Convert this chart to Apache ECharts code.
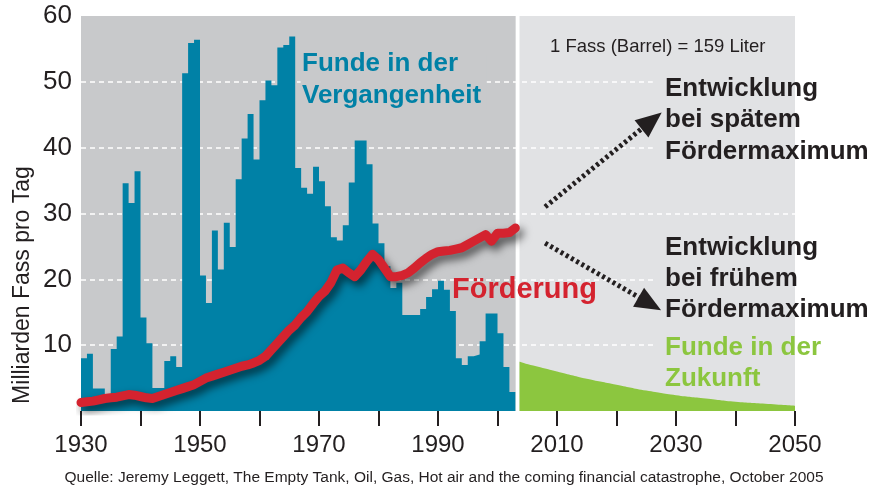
<!DOCTYPE html>
<html>
<head>
<meta charset="utf-8">
<script src="https://cdn.jsdelivr.net/npm/echarts@6/dist/echarts.min.js"></script>
<style>
html, body { margin: 0; padding: 0; background: #fff; }
#chart { width: 882px; height: 491px; }
</style>
</head>
<body>
<div id="chart"></div>
<script>
// Funde in der Vergangenheit (1930-2002), Milliarden Fass
var startYear = 1930;
var funde = [
    8.0, 8.7, 3.4, 3.4, 2.2, 9.4, 11.3, 34.6, 31.6, 36.4,
    14.2, 10.3, 3.5, 3.5, 7.6, 8.3, 6.7, 51.3, 55.9, 56.4,
    20.6, 16.4, 27.4, 21.5, 28.6, 24.9, 35.2, 41.4, 45.1, 38.2,
    47.2, 50.2, 49.5, 55.2, 55.6, 56.9, 36.9, 33.9, 33.0, 37.1,
    34.9, 31.1, 26.4, 25.9, 28.2, 34.7, 41.1, 41.1, 37.5, 28.5,
    25.5, 22.0, 18.7, 19.5, 14.6, 14.6, 14.6, 15.5, 17.3, 18.5,
    19.8, 18.4, 15.2, 8.0, 7.0, 8.3, 8.6, 10.6, 14.8, 14.8,
    11.8, 6.7, 2.9
];
// Förderung (1930-2003)
var foerderung = [
    1.3, 1.4, 1.5, 1.7, 1.9, 2.0, 2.1, 2.3, 2.5, 2.4,
    2.2, 2.0, 1.9, 2.2, 2.5, 2.8, 3.1, 3.4, 3.7, 4.0,
    4.5, 5.0, 5.3, 5.6, 5.9, 6.2, 6.5, 6.8, 7.0, 7.3,
    7.7, 8.3, 9.3, 10.3, 11.3, 12.3, 13.1, 14.2, 15.1, 16.3,
    17.4, 18.2, 19.5, 21.4, 21.7, 21.0, 20.4, 21.4, 22.7, 23.8,
    23.0, 21.7, 20.4, 20.4, 20.6, 21.0, 21.7, 22.5, 23.2, 23.8,
    24.2, 24.3, 24.4, 24.6, 24.8, 25.3, 25.8, 26.3, 26.8, 25.8,
    27.0, 27.0, 27.1, 27.8
];
// Funde in der Zukunft
var zukunftJahre = [2003.7, 2006, 2010, 2015, 2020, 2025, 2030, 2035, 2040, 2045, 2050];
var zukunftFunde = [7.5, 6.9, 6.0, 4.9, 4.0, 3.1, 2.4, 1.9, 1.4, 1.1, 0.8];

var textColor = '#231f20';
var font = "'Liberation Sans', Arial, sans-serif";

var fundeData = funde.map(function (v, i) { return [startYear + i, v]; });
fundeData.push([startYear + funde.length, funde[funde.length - 1]]);
var foerderData = foerderung.map(function (v, i) { return [startYear + i, v]; });
var zukunftData = zukunftJahre.map(function (y, i) { return [y, zukunftFunde[i]]; });

var chart = echarts.init(document.getElementById('chart'));

var option = {
    animation: false,
    grid: { left: 81, right: 87, top: 16, bottom: 80 },
    xAxis: {
        type: 'value', min: 1930, max: 2050, interval: 10,
        axisLine: { show: false },
        axisTick: { show: true, length: 15, lineStyle: { color: textColor, width: 2 } },
        splitLine: { show: false },
        axisLabel: {
            fontSize: 24, color: textColor, margin: 22, fontFamily: font,
            formatter: function (v) { return (v - 1930) % 20 === 0 ? String(v) : ''; }
        }
    },
    yAxis: {
        type: 'value', min: 0, max: 60, interval: 10,
        axisLine: { show: false },
        axisTick: { show: false },
        axisLabel: {
            fontSize: 26, color: textColor, margin: 9, fontFamily: font,
            formatter: function (v) { return v === 0 ? '' : String(v); }
        },
        splitLine: {
            lineStyle: {
                color: ['rgba(0,0,0,0)', '#fff', '#fff', '#fff', '#fff', '#fff', 'rgba(0,0,0,0)'],
                type: [5, 4], width: 1.5
            }
        }
    },
    graphic: [
        { type: 'text', x: 302, y: 48, z: 10, style: { text: 'Funde in der\nVergangenheit', fontSize: 26, fontWeight: 'bold', fontFamily: font, fill: '#0081a6', lineHeight: 32, align: 'left', verticalAlign: 'top' } },
        { type: 'text', x: 452, y: 290, z: 10, style: { text: 'Förderung', fontSize: 29, fontWeight: 'bold', fontFamily: font, fill: '#d4232f', align: 'left', verticalAlign: 'middle' } },
        { type: 'text', x: 550, y: 46.5, z: 10, style: { text: '1 Fass (Barrel) = 159 Liter', fontSize: 18.5, fontFamily: font, fill: textColor, align: 'left', verticalAlign: 'middle' } },
        { type: 'text', x: 665, y: 72.5, z: 10, style: { text: 'Entwicklung\nbei spätem\nFördermaximum', fontSize: 26, fontWeight: 'bold', fontFamily: font, fill: textColor, lineHeight: 31.7, align: 'left', verticalAlign: 'top' } },
        { type: 'text', x: 665, y: 232.5, z: 10, style: { text: 'Entwicklung\nbei frühem\nFördermaximum', fontSize: 26, fontWeight: 'bold', fontFamily: font, fill: textColor, lineHeight: 31, align: 'left', verticalAlign: 'top' } },
        { type: 'text', x: 665, y: 332.5, z: 10, style: { text: 'Funde in der\nZukunft', fontSize: 26, fontWeight: 'bold', fontFamily: font, fill: '#8cc63f', lineHeight: 31, align: 'left', verticalAlign: 'top' } },
        { type: 'text', x: 23, y: 285, rotation: Math.PI / 2, z: 10, style: { text: 'Milliarden Fass pro Tag', fontSize: 23, fontFamily: font, fill: textColor, align: 'center', verticalAlign: 'middle' } },
        { type: 'text', x: 444, y: 478, z: 10, style: { text: 'Quelle: Jeremy Leggett, The Empty Tank, Oil, Gas, Hot air and the coming financial catastrophe, October 2005', fontSize: 15.5, fontFamily: font, fill: textColor, align: 'center', verticalAlign: 'middle' } }
    ],
    series: [
        {
            // Hintergrund
            type: 'line', data: [], z: -1, silent: true,
            markArea: {
                silent: true, z: -1,
                data: [
                    [{ xAxis: 1930, yAxis: 0, itemStyle: { color: '#c8c9cb' } }, { xAxis: 2003.05, yAxis: 60 }],
                    [{ xAxis: 2003.7, yAxis: 0, itemStyle: { color: '#e1e2e4' } }, { xAxis: 2050, yAxis: 60 }]
                ]
            }
        },
        {
            // Flächen hinter den Beschriftungen
            type: 'line', data: [], z: 1, silent: true,
            markArea: {
                silent: true, z: 1,
                data: [
                    [{ xAxis: 1966.9, yAxis: 46, itemStyle: { color: '#c8c9cb' } }, { xAxis: 1998.2, yAxis: 54 }],
                    [{ xAxis: 2026.1, yAxis: 36, itemStyle: { color: '#e1e2e4' } }, { xAxis: 2050, yAxis: 53 }],
                    [{ xAxis: 2026.4, yAxis: 8.3, itemStyle: { color: '#e1e2e4' } }, { xAxis: 2050, yAxis: 22 }]
                ]
            }
        },
        {
            name: 'Funde in der Vergangenheit',
            type: 'line', step: 'end', z: 2, symbol: 'none',
            lineStyle: { opacity: 0 },
            areaStyle: { color: '#0081a6', opacity: 1 },
            data: fundeData
        },
        {
            name: 'Funde in der Zukunft',
            type: 'line', smooth: true, z: 2, symbol: 'none',
            lineStyle: { opacity: 0 },
            areaStyle: { color: '#8cc63f', opacity: 1 },
            data: zukunftData
        },
        {
            name: 'Förderung',
            type: 'line', z: 4, symbol: 'none',
            lineStyle: {
                color: '#d4232f', width: 9, cap: 'round', join: 'round',
                shadowColor: 'rgba(0,0,0,0.6)', shadowBlur: 8, shadowOffsetX: 4, shadowOffsetY: 5
            },
            data: foerderData
        },
        {
            // Pfeile
            type: 'line', data: [], z: 5, silent: true,
            markLine: {
                silent: true, z: 5,
                symbol: ['none', 'triangle'],
                symbolSize: [22, 26],
                label: { show: false },
                lineStyle: { color: textColor, width: 5, type: [3, 3] },
                data: [
                    [{ coord: [2008.0, 31.0] }, { coord: [2025.9, 44.1] }],
                    [{ coord: [2008.0, 25.5] }, { coord: [2025.6, 16.3] }]
                ]
            }
        }
    ]
};

chart.setOption(option);
</script>
</body>
</html>
